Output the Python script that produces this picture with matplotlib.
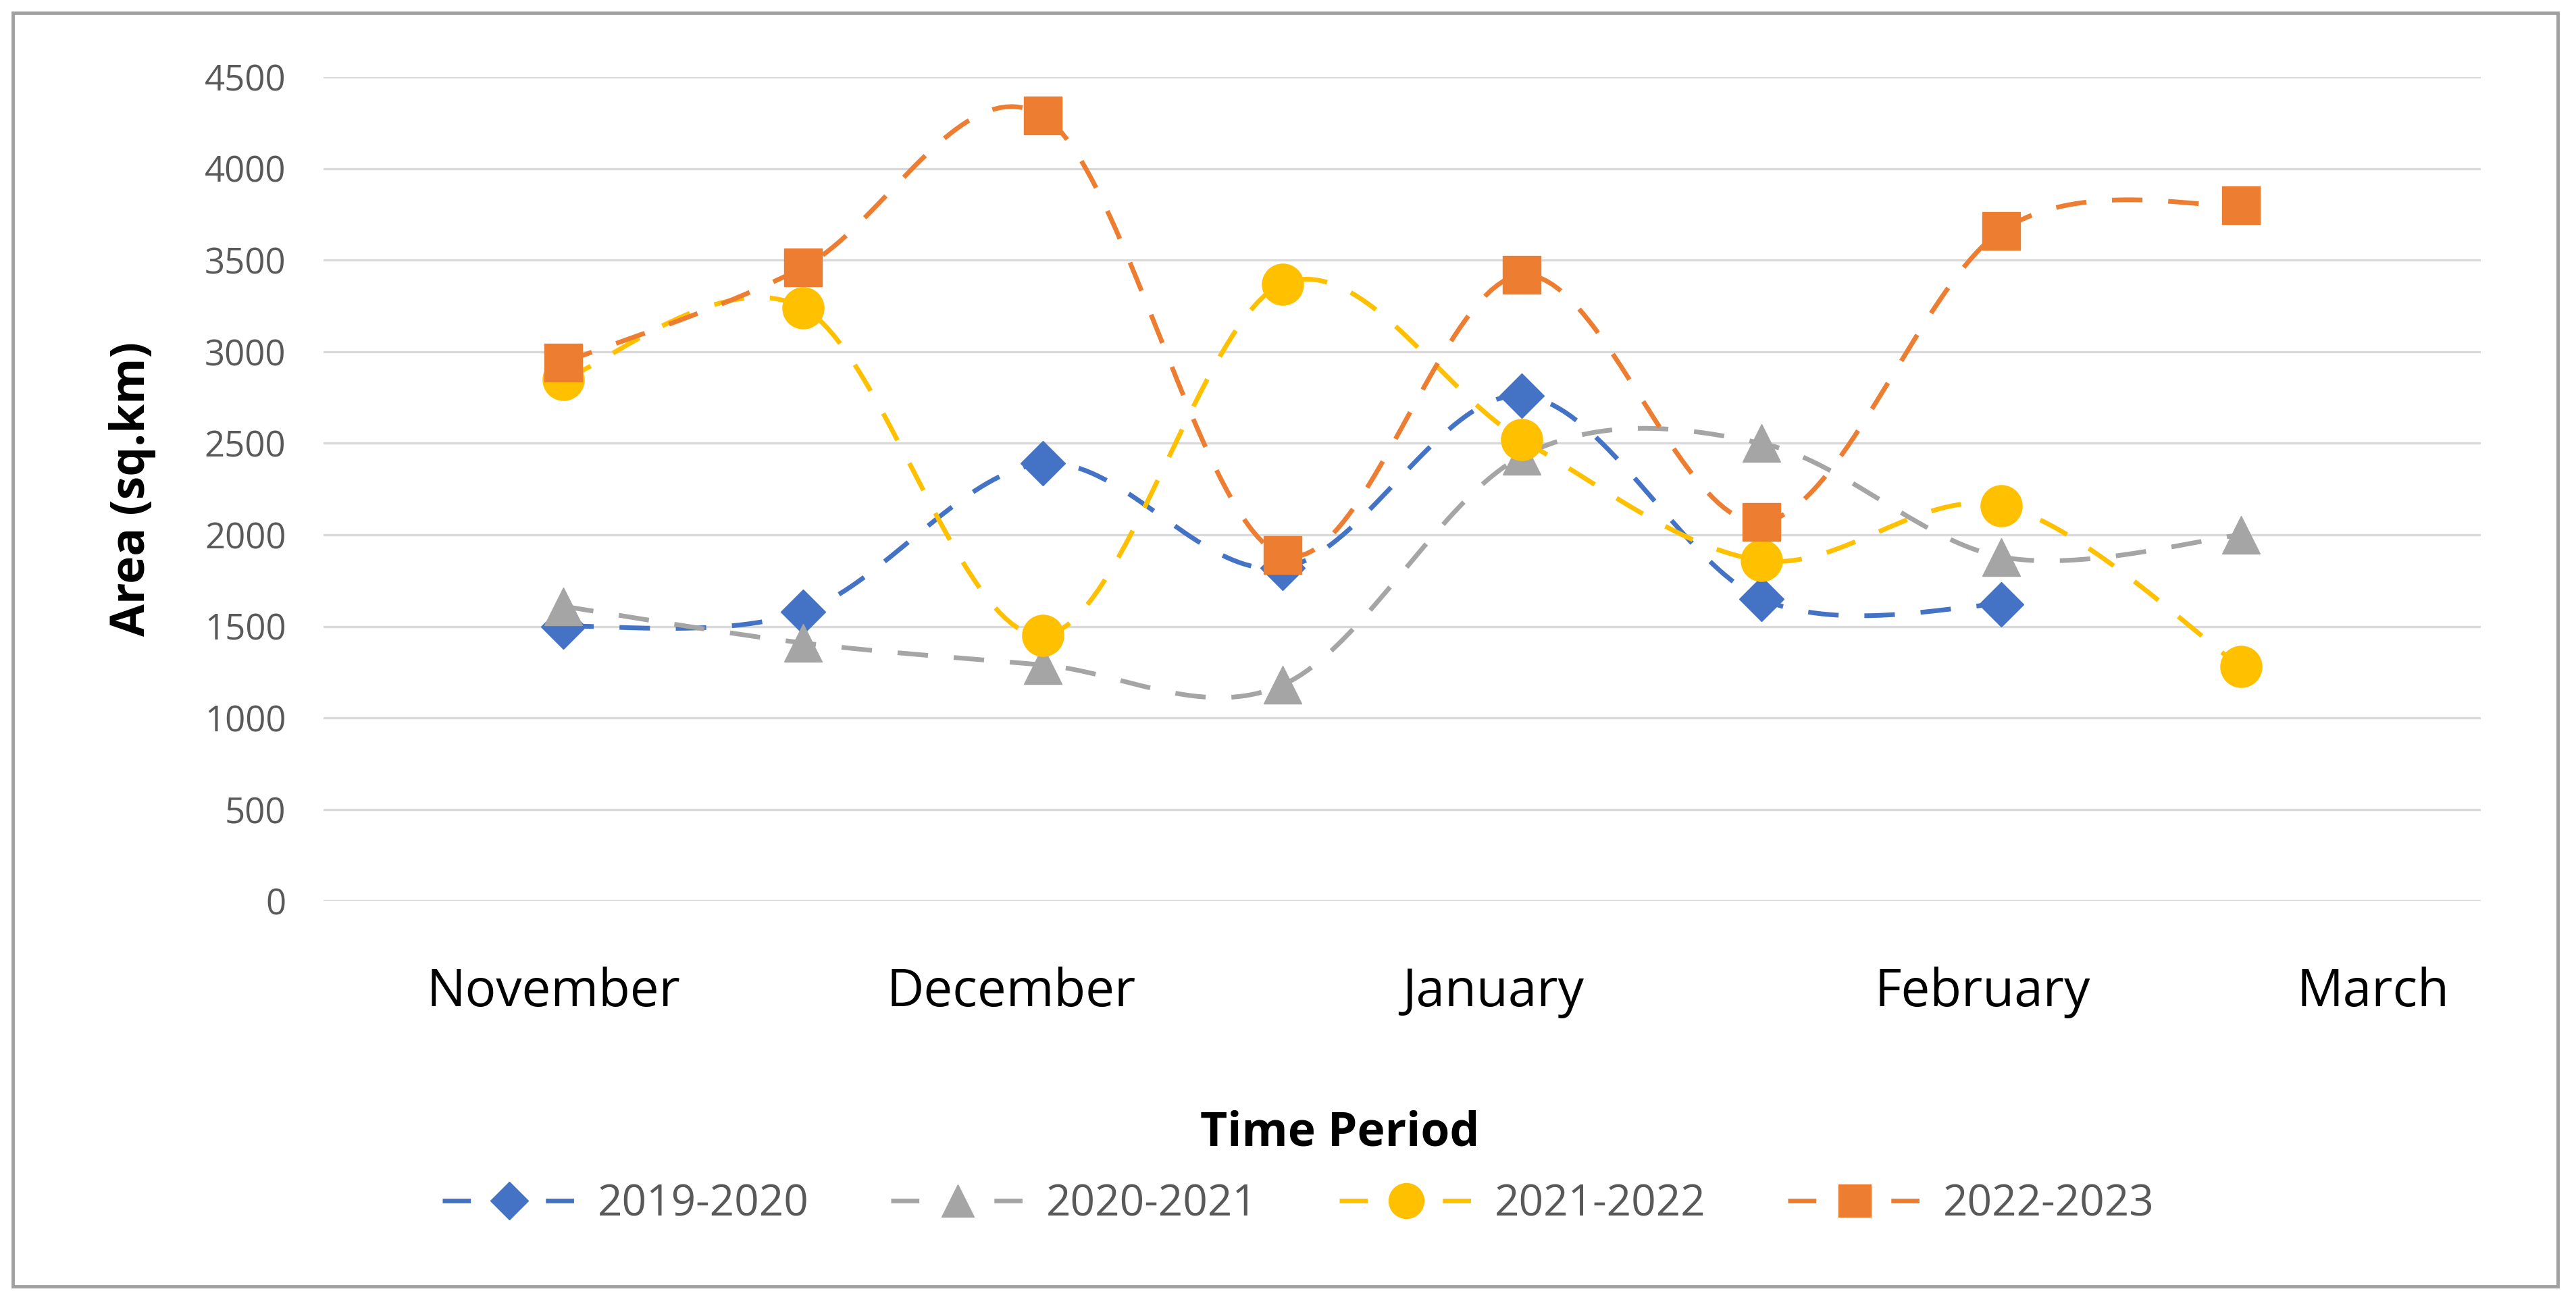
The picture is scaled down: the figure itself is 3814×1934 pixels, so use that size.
import numpy as np
import matplotlib
matplotlib.use("Agg")
import matplotlib.pyplot as plt
from matplotlib.patches import Rectangle

plt.rcParams['font.family'] = ['Open Sans', 'DejaVu Sans']

positions = [1, 2, 3, 4, 5, 6, 7, 8]
month_labels = ["November", "December", "January", "February", "March"]
month_label_pos = [0.96, 2.87, 4.88, 6.92, 8.55]

series_names = ["2019-2020", "2020-2021", "2021-2022", "2022-2023"]
s2019 = [1500, 1580, 2390, 1820, 2760, 1650, 1620, None]
s2020 = [1610, 1410, 1290, 1180, 2430, 2500, 1880, 2000]
s2021 = [2850, 3240, 1450, 3370, 2520, 1860, 2160, 1280]
s2022 = [2940, 3460, 4290, 1890, 3420, 2070, 3660, 3800]
all_series = [s2019, s2020, s2021, s2022]

colors = ["#4472C4", "#A5A5A5", "#FFC000", "#ED7D31"]
markers = ["D", "^", "o", "s"]
msizes = [34, 40, 44, 40]


def smooth(xs, ys, n=40):
    pts = [(x, y) for x, y in zip(xs, ys) if y is not None]
    P = np.array(pts, dtype=float)
    m = len(P)
    out = []
    for i in range(m - 1):
        p0 = P[i - 1] if i > 0 else P[i]
        p1 = P[i]
        p2 = P[i + 1]
        p3 = P[i + 2] if i + 2 < m else P[i + 1]
        c1 = p1 + (p2 - p0) / 6.0
        c2 = p2 - (p3 - p1) / 6.0
        t = np.linspace(0, 1, n)[:, None]
        seg = ((1 - t) ** 3) * p1 + 3 * ((1 - t) ** 2) * t * c1 + 3 * (1 - t) * t ** 2 * c2 + t ** 3 * p2
        if i > 0:
            seg = seg[1:]
        out.append(seg)
    S = np.vstack(out)
    return S[:, 0], S[:, 1], P


fig = plt.figure(figsize=(38.14, 19.34), dpi=100)
ax = fig.add_axes([0.1256, 0.310, 0.8374, 0.631])

LW = 5
for name, ys, c, mk, ms in zip(series_names, all_series, colors, markers, msizes):
    sx, sy, P = smooth(positions, ys)
    ax.plot(sx, sy, color=c, lw=LW, ls=(0, (6.5, 5.5)), zorder=3)
    ax.plot(P[:, 0], P[:, 1], ls='none', marker=mk, ms=ms, color=c, zorder=4)
    ax.plot([], [], color=c, lw=LW, ls=(0, (6.0, 16.0)), marker=mk, ms=ms * 0.85, label=name)

ax.set_xlim(0, 9)
ax.set_ylim(0, 4500)
ax.set_yticks(np.arange(0, 4501, 500))
ax.grid(axis='y', color='#D9D9D9', lw=2.4)
ax.set_axisbelow(True)
for sp in ax.spines.values():
    sp.set_visible(False)
ax.tick_params(axis='y', length=0, labelsize=38, labelcolor='#595959', pad=40)
ax.set_xticks([])
for lab, xp in zip(month_labels, month_label_pos):
    ax.text(xp, -500, lab, ha='center', va='center', fontsize=55, color='#000000')

ax.set_ylabel("Area (sq.km)", fontsize=50, fontweight='bold', labelpad=52)
fig.text(0.52, 0.132, "Time Period", ha='center', va='center', fontsize=50, fontweight='bold')

leg = fig.legend(loc='center', bbox_to_anchor=(0.504, 0.078), ncol=4, frameon=False,
                 fontsize=46, handlelength=3.1, columnspacing=1.9, handletextpad=0.5,
                 labelcolor='#595959')

fig.patches.append(Rectangle((0.005, 0.015), 0.988, 0.975, transform=fig.transFigure,
                             fill=False, edgecolor='#A0A0A0', lw=3.5))

fig.savefig("out.png", dpi=100, facecolor='white')
